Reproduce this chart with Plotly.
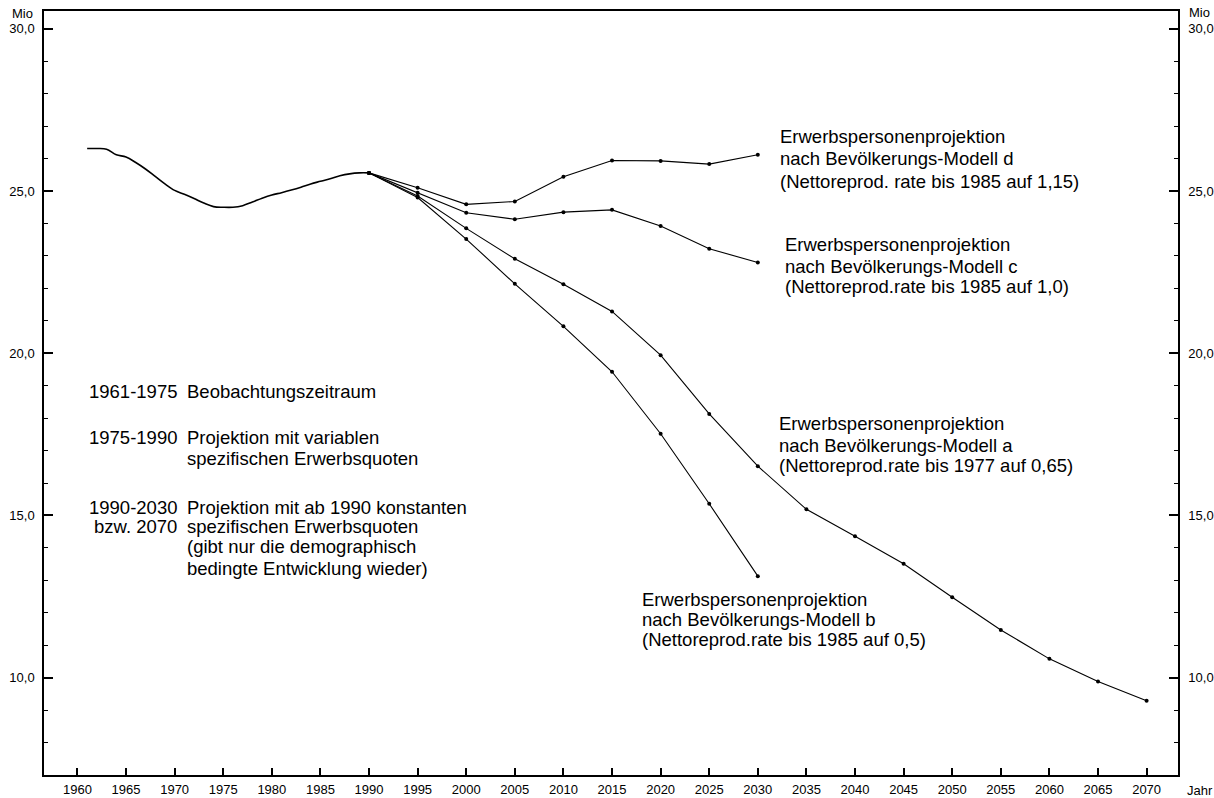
import plotly.graph_objects as go

# ---- data ----
hist_years = list(range(1961, 1991))
hist_vals = [26.31, 26.31, 26.29, 26.12, 26.05, 25.88, 25.68, 25.45, 25.22, 25.02,
             24.90, 24.77, 24.63, 24.52, 24.50, 24.50, 24.55, 24.66, 24.78, 24.88,
             24.95, 25.03, 25.12, 25.22, 25.30, 25.38, 25.47, 25.53, 25.56, 25.56]

proj_years = [1990, 1995, 2000, 2005, 2010, 2015, 2020, 2025, 2030]
model_d = [25.56, 25.10, 24.59, 24.68, 25.44, 25.94, 25.93, 25.83, 26.12]
model_c = [25.56, 24.95, 24.33, 24.13, 24.35, 24.42, 23.92, 23.22, 22.80]
model_b = [25.56, 24.80, 23.52, 22.14, 20.83, 19.43, 17.52, 15.36, 13.13]

years_a = [1990, 1995, 2000, 2005, 2010, 2015, 2020, 2025, 2030, 2035, 2040,
           2045, 2050, 2055, 2060, 2065, 2070]
model_a = [25.56, 24.85, 23.85, 22.91, 22.13, 21.29, 19.94, 18.13, 16.52, 15.19,
           14.36, 13.51, 12.48, 11.47, 10.58, 9.88, 9.29]

label_d = ["Erwerbspersonenprojektion", "nach Bevölkerungs-Modell d",
           "(Nettoreprod. rate bis 1985 auf 1,15)"]
label_c = ["Erwerbspersonenprojektion", "nach Bevölkerungs-Modell c",
           "(Nettoreprod.rate bis 1985 auf 1,0)"]
label_a = ["Erwerbspersonenprojektion", "nach Bevölkerungs-Modell a",
           "(Nettoreprod.rate bis 1977 auf 0,65)"]
label_b = ["Erwerbspersonenprojektion", "nach Bevölkerungs-Modell b",
           "(Nettoreprod.rate bis 1985 auf 0,5)"]

legend_periods = ["1961-1975", "1975-1990", "", "1990-2030", "bzw. 2070", "", ""]
legend_texts = ["Beobachtungszeitraum", "Projektion mit variablen",
                "spezifischen Erwerbsquoten", "Projektion mit ab 1990 konstanten",
                "spezifischen Erwerbsquoten", "(gibt nur die demographisch",
                "bedingte Entwicklung wieder)"]

FONT = "Liberation Sans, Arial, Helvetica, sans-serif"
TXT = 18.5

fig = go.Figure()
fig.add_trace(go.Scatter(x=hist_years, y=hist_vals, mode="lines",
                         line=dict(color="black", width=1.6), line_shape="spline",
                         hoverinfo="skip", showlegend=False))
marker = dict(color="black", size=4)
for yrs, vals in [(proj_years, model_d), (proj_years, model_c),
                  (years_a, model_a), (proj_years, model_b)]:
    fig.add_trace(go.Scatter(x=yrs, y=vals, mode="lines+markers",
                             line=dict(color="black", width=1.1), marker=marker,
                             showlegend=False))
# invisible trace to activate right axis
fig.add_trace(go.Scatter(x=[2000], y=[20], yaxis="y2", mode="markers",
                         marker=dict(opacity=0), showlegend=False, hoverinfo="skip"))

ann = []
def block(lines, x, ys):
    for t, y in zip(lines, ys):
        ann.append(dict(x=x, y=y, xref="x", yref="y", text=t, showarrow=False,
                        xanchor="left", yanchor="middle",
                        font=dict(size=TXT, color="black", family=FONT)))

block(label_d, 2032.08, [26.67, 25.99, 25.29])
block(label_c, 2032.59, [23.34, 22.67, 22.06])
block(label_a, 2031.98, [17.82, 17.15, 16.53])
block(label_b, 2017.88, [12.40, 11.78, 11.17])

legend_y = [18.81, 17.39, 16.77, 15.26, 14.65, 14.03, 13.38]
for p, t, y in zip(legend_periods, legend_texts, legend_y):
    if p:
        ann.append(dict(x=1970.45, y=y, xref="x", yref="y", text=p, showarrow=False,
                        xanchor="right", yanchor="middle",
                        font=dict(size=TXT, color="black", family=FONT)))
    ann.append(dict(x=1971.10, y=y, xref="x", yref="y", text=t, showarrow=False,
                    xanchor="left", yanchor="middle",
                    font=dict(size=TXT, color="black", family=FONT)))

small = dict(size=13, color="black", family=FONT)
ann.append(dict(x=-0.030, y=0.9961, xref="paper", yref="paper", text="Mio",
                showarrow=False, xanchor="left", yanchor="middle", font=small))
ann.append(dict(x=1.0079, y=0.9974, xref="paper", yref="paper", text="Mio",
                showarrow=False, xanchor="left", yanchor="middle", font=small))
ann.append(dict(x=1.0062, y=-0.0200, xref="paper", yref="paper", text="Jahr",
                showarrow=False, xanchor="left", yanchor="middle", font=small))

fig.update_layout(
    width=1214, height=798,
    margin=dict(l=44, r=36, t=11, b=23),
    paper_bgcolor="white", plot_bgcolor="white",
    separators=",.",
    font=dict(family=FONT, color="black"),
    annotations=ann,
    xaxis=dict(range=[1956.56, 2073.23], tick0=1960, dtick=5, tickformat="d",
               showgrid=False, zeroline=False, showline=True, linecolor="black",
               linewidth=1.5, mirror=True, ticks="inside", ticklen=7, tickwidth=1.5,
               tickcolor="black", tickfont=small, ticklabelstandoff=2,
               automargin=False),
    yaxis=dict(range=[7.0, 30.55], tick0=0, dtick=5, tickformat=".1f",
               showgrid=False, zeroline=False, showline=True, linecolor="black",
               linewidth=1.5, ticks="inside", ticklen=9, tickwidth=1.5,
               tickcolor="black", tickfont=small, ticklabelstandoff=5,
               minor=dict(dtick=1, tick0=0, ticks="inside", ticklen=4,
                          tickcolor="black", tickwidth=1.2),
               automargin=False),
    yaxis2=dict(range=[7.0, 30.55], tick0=0, dtick=5, tickformat=".1f",
                overlaying="y", side="right",
                showgrid=False, zeroline=False, showline=True, linecolor="black",
                linewidth=1.5, ticks="inside", ticklen=9, tickwidth=1.5,
                tickcolor="black", tickfont=small, ticklabelstandoff=6,
                minor=dict(dtick=1, tick0=0, ticks="inside", ticklen=4,
                           tickcolor="black", tickwidth=1.2),
                automargin=False),
)

# remove the default 8px page margin so the 1214x798 figure fills the window exactly
fig.write_html("out.html",
               config={"displayModeBar": False},
               post_script="document.body.style.margin='0';"
                           "document.body.style.overflow='hidden';")
